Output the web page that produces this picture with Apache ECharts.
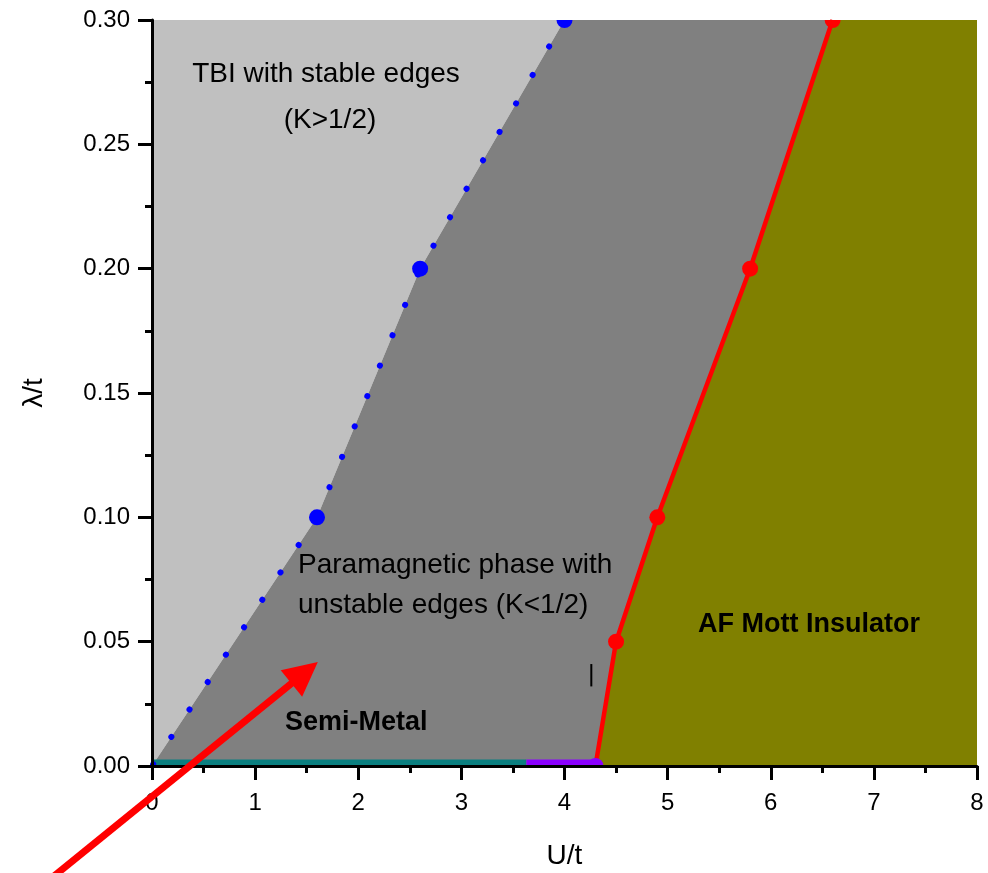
<!DOCTYPE html>
<html><head><meta charset="utf-8">
<script src="https://cdn.jsdelivr.net/npm/echarts@6/dist/echarts.min.js"></script>
<style>html,body{margin:0;padding:0;background:#fff}#c{width:988px;height:873px}</style>
</head><body><div id="c"></div>
<script>
// ---- data ----
const uMin = 0, uMax = 8, uStep = 1;
const lMin = 0, lMax = 0.30, lStep = 0.05;
// TBI / paramagnetic boundary (blue, dotted)
const blueU = [0, 1.6, 2.6, 4.0];
const blueL = [0, 0.10, 0.20, 0.30];
// paramagnetic / AF Mott boundary (red)
const redU = [4.3, 4.5, 4.9, 5.8, 6.6];
const redL = [0, 0.05, 0.10, 0.20, 0.30];
// semi-metal segment on λ = 0 (teal) and the purple segment
const tealU = [0, 3.63];
const purpleU = [3.63, 4.3];
const bandL = [0, 0];
// annotation arrow (tail outside the axes, head inside)
const arrowU = [-0.99, 1.48];
const arrowL = [-0.0456, 0.0375];
// small vertical mark
const markU = [4.26, 4.26];
const markL = [0.032, 0.041];

const FONT = 'Liberation Sans, Arial, sans-serif';

const pts = (us, ls) => us.map((u, i) => [u, ls[i]]);
const bluePts = pts(blueU, blueL);
const redPts = pts(redU, redL);
const regions = [
  bluePts.concat([[uMin, lMax]]),                                   // TBI (light gray)
  bluePts.concat(redPts.slice().reverse()),                         // paramagnetic (dark gray)
  redPts.concat([[uMax, lMax], [uMax, lMin]])                       // AF Mott (olive)
];
const regionColors = ['#c0c0c0', '#808080', '#808000'];

function bandSeries(us, ls, color) {
  return {
    type: 'custom', coordinateSystem: 'cartesian2d', clip: true, silent: true, z: 4,
    data: [[us[0], ls[0], us[1], ls[1]]],
    encode: { x: [0, 2], y: [1, 3] },
    renderItem: (p, api) => {
      const a = api.coord([api.value(0), api.value(1)]);
      const b = api.coord([api.value(2), api.value(3)]);
      return { type: 'line', shape: { x1: a[0], y1: a[1], x2: b[0], y2: b[1] },
               style: { stroke: color, lineWidth: 13 } };
    }
  };
}
function markerSeries(us, ls, color, r, z) {
  return {
    type: 'custom', coordinateSystem: 'cartesian2d', clip: true, silent: true, z: z,
    data: pts(us, ls),
    encode: { x: 0, y: 1 },
    renderItem: (p, api) => {
      const c = api.coord([api.value(0), api.value(1)]);
      return { type: 'circle', shape: { cx: c[0], cy: c[1], r: r }, style: { fill: color } };
    }
  };
}
function makeAxis(extra) {
  return Object.assign({
    type: 'value', z: 30,
    axisLine: { show: true, onZero: false, lineStyle: { color: '#000', width: 3 } },
    axisTick: { show: true, inside: false, length: 14, lineStyle: { color: '#000', width: 3 } },
    minorTick: { show: true, splitNumber: 2, length: 7, lineStyle: { color: '#000', width: 3 } },
    splitLine: { show: false },
    minorSplitLine: { show: false }
  }, extra);
}

const chart = echarts.init(document.getElementById('c'), null, { renderer: 'canvas' });
chart.setOption({
  animation: false,
  backgroundColor: '#fff',
  grid: { left: 152, right: 11, top: 20, bottom: 107, containLabel: false, outerBoundsMode: 'none' },
  xAxis: makeAxis({
    min: uMin, max: uMax, interval: uStep,
    axisLabel: { fontSize: 24, color: '#000', margin: 25, fontFamily: FONT },
    name: 'U/t', nameLocation: 'middle', nameGap: 76,
    nameTextStyle: { fontSize: 28, color: '#000', fontFamily: FONT }
  }),
  yAxis: makeAxis({
    min: lMin, max: lMax, interval: lStep,
    axisLabel: { fontSize: 24, color: '#000', margin: 22, fontFamily: FONT,
                 formatter: v => v.toFixed(2) },
    name: 'λ/t', nameLocation: 'middle', nameGap: 104,
    nameTextStyle: { fontSize: 28, color: '#000', fontFamily: FONT }
  }),
  series: [
    {
      type: 'custom', coordinateSystem: 'cartesian2d', clip: true, silent: true, z: 1,
      data: regions.map((r, i) => [i]),
      encode: { x: -1, y: -1 },
      renderItem: (p, api) => ({
        type: 'polygon',
        shape: { points: regions[p.dataIndex].map(q => api.coord(q)) },
        style: { fill: regionColors[p.dataIndex] }
      })
    },
    bandSeries(tealU, bandL, '#0b7f80'),
    bandSeries(purpleU, bandL, '#8a00ff'),
    {
      type: 'line', data: bluePts, showSymbol: false, symbol: 'none', clip: true, z: 5, silent: true,
      lineStyle: { color: '#0000ff', width: 6, type: [0.1, 32.8], cap: 'round', dashOffset: -2 }
    },
    {
      type: 'line', data: redPts, showSymbol: false, symbol: 'none', clip: true, z: 5, silent: true,
      lineStyle: { color: '#ff0000', width: 4.5 }
    },
    markerSeries(blueU.slice(1), blueL.slice(1), '#0000ff', 8, 6),
    markerSeries(redU.slice(1), redL.slice(1), '#ff0000', 8, 6),
    markerSeries(redU.slice(0, 1), redL.slice(0, 1), '#8a00ff', 8, 7),
    {
      type: 'line', data: pts(markU, markL), showSymbol: false, symbol: 'none', z: 6, silent: true,
      lineStyle: { color: '#000', width: 2 }
    },
    {
      type: 'lines', coordinateSystem: 'cartesian2d', clip: false, silent: true, z: 40,
      symbol: ['none', 'triangle'], symbolSize: [28, 34],
      lineStyle: { color: '#ff0000', width: 7, opacity: 1, curveness: 0 },
      data: [{ coords: pts(arrowU, arrowL) }]
    }
  ],
  graphic: [
    { type: 'text', x: 326, y: 74, z: 20, style: { text: 'TBI with stable edges', font: '28px ' + FONT, fill: '#000', align: 'center', verticalAlign: 'middle' } },
    { type: 'text', x: 330, y: 120, z: 20, style: { text: '(K>1/2)', font: '28px ' + FONT, fill: '#000', align: 'center', verticalAlign: 'middle' } },
    { type: 'text', x: 298, y: 565, z: 20, style: { text: 'Paramagnetic phase with', font: '28px ' + FONT, fill: '#000', align: 'left', verticalAlign: 'middle' } },
    { type: 'text', x: 298, y: 605, z: 20, style: { text: 'unstable edges (K<1/2)', font: '28px ' + FONT, fill: '#000', align: 'left', verticalAlign: 'middle' } },
    { type: 'text', x: 285, y: 723, z: 20, style: { text: 'Semi-Metal', font: 'bold 27px ' + FONT, fill: '#000', align: 'left', verticalAlign: 'middle' } },
    { type: 'text', x: 698, y: 625, z: 20, style: { text: 'AF Mott Insulator', font: 'bold 27px ' + FONT, fill: '#000', align: 'left', verticalAlign: 'middle' } }
  ]
});
</script>
</body></html>
